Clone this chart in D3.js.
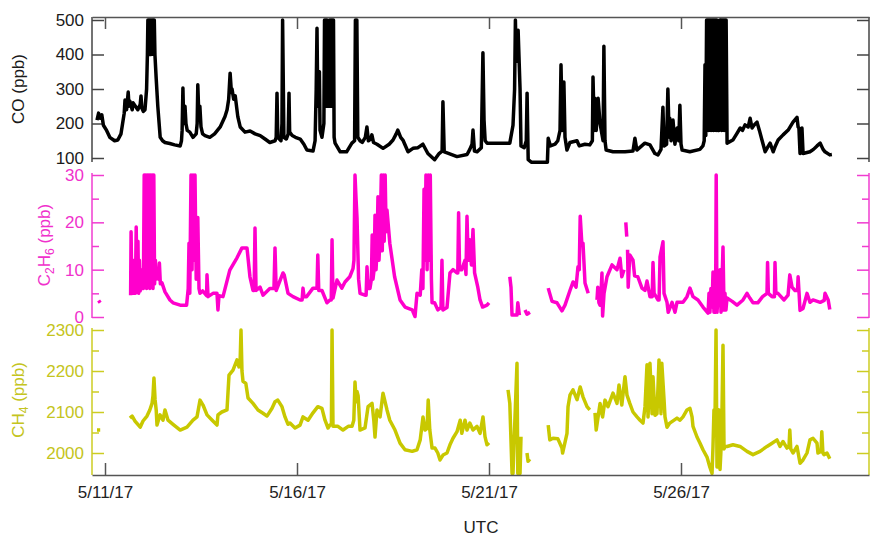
<!DOCTYPE html>
<html>
<head>
<meta charset="utf-8">
<script src="https://cdn.jsdelivr.net/npm/d3@7"></script>
<style>
body { margin: 0; background: #fff; }
svg { display: block; font-family: "Liberation Sans", Arial, Helvetica, sans-serif; }
</style>
</head>
<body>
<svg width="870" height="539"></svg>
<script>
// [hours since 5/11/17 00:00 UTC, ppb]; null = gap in the record
const coData = [
  [-5,210],[-4,230],[-3,215],[-2,225],[-1,195],[1,180],[3,160],[6,150],[8,152],[10,170],[11,200],[12,230],[12.5,268],[13.5,240],[14.5,291],[15,250],[15.5,265],[17,240],[17.5,260],[19,250],[20.5,240],[22,255],[22.5,280],[23,245],[24,235],[25,240],[26,300],[26.5,400],[26.8,500],[27.2,400],[27.6,500],[28,400],[28.4,500],[28.8,400],[29.2,500],[29.6,410],[30,500],[30.4,400],[30.8,500],[31.2,400],[32,330],[33,250],[34.5,160],[36,150],[37.5,145],[40.5,142],[43.5,138],[47,135],[47.8,150],[48.2,180],[48.7,303],[49.2,200],[50,250],[50.6,200],[51.4,180],[53,175],[55,160],[57,170],[57.6,200],[58,312],[58.6,230],[59.3,250],[60,190],[61,170],[62.5,165],[65.5,160],[68.5,170],[72,190],[75,220],[76.3,240],[77.3,270],[78.2,346],[79,290],[79.4,300],[80.4,270],[81.4,280],[83,220],[84.5,190],[87.5,175],[90.7,178],[93.8,170],[97,165],[100,155],[103,145],[106.3,150],[107,160],[107.5,288],[108,160],[110,150],[110.6,200],[111,500],[111.8,160],[113.3,155],[114.5,170],[115,288],[115.4,175],[117,165],[119,160],[122,155],[124.3,140],[126.2,123],[130,120],[131.3,150],[132,300],[132.5,476],[133,250],[134,350],[134.4,180],[135.6,160],[136.8,200],[137.2,500],[137.6,250],[138,500],[138.4,250],[138.8,500],[139.2,250],[139.6,300],[140,250],[140.4,500],[140.8,250],[141.2,500],[141.6,250],[142,500],[142.4,250],[142.8,500],[143.2,160],[143.8,143],[147,118],[151,118],[154.3,143],[156,150],[156.5,500],[157.4,500],[158,160],[159.4,150],[160.8,145],[162.7,160],[163.7,190],[164.6,150],[166,155],[166.8,167],[167.8,145],[170,140],[173.8,128],[177.6,140],[180,152],[182,170],[183,181],[184.8,160],[186.2,152],[189.4,118],[192.5,128],[195.6,130],[198.7,140],[201.8,113],[206,95],[208.8,113],[210.7,120],[211.2,263],[212,118],[213.8,115],[220,104],[226.3,110],[228,125],[229.4,140],[230,181],[230.9,120],[232.6,118],[235.2,130],[236.2,405],[236.9,210],[237.6,150],[238.8,143],[247,143],[253,143],[255,195],[256,300],[256.5,500],[257,380],[258.2,470],[259.4,300],[260,135],[262,130],[263.3,150],[263.8,288],[264.5,95],[266.4,88],[276.5,88],[277,157],[278.4,135],[281.3,140],[283,150],[284.4,180],[285,370],[285.8,180],[286.8,320],[287.5,160],[288.7,123],[290.6,145],[295,150],[296.4,135],[300,140],[303,138],[304.6,150],[305,335],[305.8,180],[306.2,273],[307,180],[308.2,273],[309.4,200],[311.3,150],[311.8,424],[312.5,150],[313.2,123],[317.5,118],[325,118],[330,120],[331.2,157],[332.4,123],[337.4,143],[340.6,138],[343.7,113],[345.6,109],[347.5,125],[348.7,247],[349.4,135],[351,140],[351.8,300],[352.6,160],[353,215],[353.8,150],[355,210],[356.2,140],[357.6,187],[358.6,150],[359.3,253],[360,140],[360.7,123],[365.5,118],[371.8,125],[373.7,135],[374.5,150],[375,370],[375.5,165],[376,500],[376.4,200],[376.8,500],[377.2,180],[377.6,500],[378,200],[378.4,500],[378.8,180],[379.2,500],[379.6,200],[380,500],[380.4,180],[380.8,500],[381.2,200],[381.6,500],[382,180],[382.4,500],[382.8,375],[383.1,180],[383.4,375],[383.7,180],[384,375],[384.3,500],[384.6,200],[385,500],[385.4,180],[385.8,500],[386.2,200],[386.6,500],[387,180],[387.4,500],[387.8,200],[388.2,500],[388.8,143],[392.4,152],[394.8,170],[397,187],[398.4,180],[400,196],[402,190],[403.2,215],[404.4,187],[405.6,195],[407.5,204],[409,180],[410.6,152],[412.6,118],[414,130],[415.7,143],[417.6,118],[419,135],[420.7,152],[423.8,167],[427,181],[430,204],[432.5,218],[433.2,190],[433.7,187],[434.4,113],[435,150],[435.6,187],[436.3,113],[440.6,118],[442.8,125],[445,135],[447,143],[448.8,125],[450,118],[453,109],[454.3,110]
];

const c2h6Data = [
  [-4,3.5],[-3,3.0],[-2,null],
  [16,4.6],[16.3,18],[16.8,5],[17.5,12],[18,5],[18.5,10],[19,5],[19.5,19],[20,5.5],[20.6,16],[21,5],[21.5,12],[22,5.5],[22.5,10],[23,6],[24,6],[24.5,30],[25,8],[25.5,30],[26,6],[26.5,30],[27,7],[27.5,30],[28,6],[28.5,30],[29,8],[29.5,30],[30,6],[30.5,30],[31,7],[31.5,12],[32,8],[32.5,9.3],[33.5,8],[34,11.4],[34.6,7],[35.6,7.2],[37.5,5.3],[40.6,3.6],[42.5,3],[47,2.5],[51,2.5],[52,6],[52.5,15.6],[53,5],[53.75,30],[54.4,10],[55,30],[55.6,12],[56.25,30],[57,8],[58,21],[58.75,6],[59.4,5],[61,5.5],[63.5,4.5],[63.75,8.9],[64.4,4.3],[67.5,5],[70,5],[70.6,1.5],[71.25,4.5],[73.75,4.3],[78,9.9],[82.5,12.5],[85.6,14.6],[88.75,14.6],[90.6,8.5],[92.5,5.6],[93.2,5.6],[93.75,18.8],[94.4,5.6],[96.9,6.3],[98.75,4.6],[103,6],[105.6,6],[106.25,14.6],[107,5.6],[111.25,9.3],[112,8.9],[114.4,5],[117.5,4.3],[121.9,3.6],[123.2,3.6],[123.75,6.1],[124.4,4.3],[126,4.3],[130,6.1],[132.5,6.1],[133,13.1],[133.6,5.6],[135.6,5.6],[138.75,3],[140.6,3.6],[141.4,3.6],[141.9,16.3],[142.5,4],[145,7.8],[148,6.1],[150,7.4],[153,8.5],[155,10.2],[155.6,12],[156.25,30],[156.9,25],[157.5,21],[158.5,8],[159.4,5],[162.5,4.6],[163.2,4.6],[163.75,10.6],[164.5,6],[165.6,6],[166.5,8],[167,17.3],[167.5,8],[168.2,10],[168.75,21.5],[169.4,10],[170,14],[170.6,25.4],[171.25,12],[172,18],[172.7,30],[173.3,14],[173.9,30],[174.5,16],[175.1,30],[175.7,18],[176.25,22.6],[178,15.6],[181,8.5],[184.4,3.6],[187.5,2.1],[192,1.5],[193.75,0.1],[195,5],[197,4.6],[198,10],[198.7,6],[199.4,27],[200,12],[200.6,30],[201.3,10],[202,30],[202.7,12],[203.3,30],[204,8],[204.4,3],[206,3],[208,1.5],[210,2],[210.6,12],[211.2,1.5],[213.75,2],[215.6,9.3],[217.5,10],[220,9.3],[220.5,9.3],[221,22],[221.6,10],[223,10],[225,12],[225.6,9],[226.25,21.3],[227,12],[228,16.3],[229,11],[230,18.5],[231,9.3],[233,6.3],[234.4,3.6],[236,2.1],[238.75,2.5],[240,3],[241,null],
  [253,8.5],[253.75,6.3],[254.4,0.4],[257.5,0.4],[258,3],[259,0.4],[260,null],
  [262.5,1.5],[263.75,0.6],[265.6,1],[266,null],
  [277,6.1],[279.4,3.3],[282.5,3],[285.6,1.3],[287.5,2.5],[290.6,5.6],[292.5,7.4],[294.4,6.3],[295.6,10.6],[296.4,10],[297,21.3],[298,15.6],[298.75,15.6],[300,7.2],[302,5],[303,null],
  [307.5,3.6],[308,6.3],[308.7,3],[309.4,2.5],[310,5],[310.6,9.3],[311,0.2],[311.9,5],[313.75,8.5],[316.9,11],[320,10],[321.9,12.4],[323,8.5],[324.4,10],[325,null],
  [325.5,20],[326.1,17],[326.3,null],
  [326.6,14.2],[327,6.3],[328,13.1],[330,12],[331,8.7],[333,8.5],[335.6,6.1],[337.5,5.6],[338.75,7.6],[340.6,4.3],[342,4.3],[342.5,11.5],[343.2,5],[345.6,3.6],[346.3,3.6],[346.9,12.7],[348.75,15.9],[349.4,5],[351.25,3.1],[352,1],[354.4,3.1],[356.25,1],[357.5,3.1],[361.25,3.1],[363.75,4.3],[365.6,6.1],[367.5,4.3],[370.6,3.6],[373.75,2.1],[376.9,0.8],[377.5,5],[378.1,1],[378.7,6],[379.4,2.1],[380,9.5],[380.6,1],[381.25,4.3],[381.6,1],[382,30],[382.5,1],[383,3.6],[383.6,8],[384.4,10],[385,1],[385.6,7],[386.25,14.8],[386.9,1.5],[387.5,5],[388.1,1.5],[388.75,4],[392,3.3],[395,2.5],[398.75,3.6],[401.25,5],[403,4],[405,3],[408,3],[411,4.3],[413.75,5],[414.1,11.5],[414.6,5],[416.9,4.3],[418.4,4.3],[418.75,11.5],[419.3,5],[420.6,5],[424.4,3.6],[426.9,4.6],[428,8.9],[429.4,6.3],[431.25,5.6],[432.8,5.6],[433.2,8.5],[433.8,5],[434.4,1.4],[436.25,1.8],[438.75,5],[440.6,3.1],[442.5,3.6],[447,3.1],[449.5,3.5],[450,5],[452,3.6],[453,1.6]
];

const ch4Data = [
  [-5,2056],[-3,2056],[-2,null],
  [15.6,2085],[17,2090],[18.75,2078],[22,2063],[23.75,2078],[26.25,2090],[28,2105],[29.4,2121],[30,2140],[30.6,2183],[31.3,2130],[32,2105],[32.5,2068],[34.4,2093],[36.25,2080],[37.5,2105],[39.4,2080],[42.5,2070],[47,2056],[51.25,2063],[55,2080],[57.5,2088],[59.4,2129],[61.25,2117],[63.75,2093],[67,2080],[70,2068],[70.6,2093],[73,2100],[76.25,2105],[77.5,2190],[80,2202],[82.5,2227],[83.75,2210],[84.5,2230],[85,2300],[85.6,2200],[86.25,2175],[88,2170],[89.4,2134],[92.5,2121],[95.6,2105],[98.75,2097],[101.25,2090],[104.4,2109],[106.25,2125],[108,2129],[110.6,2113],[112.5,2088],[114.4,2070],[115.6,2073],[118.75,2061],[121.9,2068],[123.75,2088],[126.9,2080],[130,2098],[133,2113],[135.6,2109],[137.5,2080],[139.4,2061],[140.6,2068],[141.5,2070],[141.9,2300],[142.5,2065],[145.6,2065],[148.75,2056],[152,2065],[154.4,2065],[155.5,2080],[156.25,2173],[157,2125],[157.5,2150],[158.2,2140],[159.4,2056],[162.5,2061],[164.4,2113],[166.9,2121],[168,2080],[168.75,2039],[170,2105],[171.9,2088],[173.75,2146],[176.25,2105],[178,2080],[181.25,2056],[184.4,2024],[187.5,2008],[192,2004],[195,2008],[197,2032],[198.75,2088],[200,2056],[201.3,2060],[202,2129],[203,2056],[204.4,2012],[206.25,2012],[208,2000],[209.4,1983],[211.25,1995],[213.75,2000],[215.6,2020],[217.5,2036],[220,2052],[222,2080],[223,2048],[225,2080],[226.25,2056],[228,2073],[230,2056],[232.5,2065],[234.4,2048],[236.25,2088],[237.5,2040],[238.75,2020],[240,2025],[241,null],
  [251.9,2154],[253,2121],[254.4,1950],[255,1950],[256.25,2088],[257.5,2219],[258,1950],[259.4,1950],[260,2040],[261,null],
  [263.75,2000],[264.4,1980],[265.6,1985],[266,null],
  [277,2068],[278,2032],[280,2036],[283,2035],[285.6,2012],[286,2000],[288.75,2048],[289.4,2113],[290.6,2141],[292.5,2154],[295,2130],[297,2161],[298.75,2137],[301.25,2113],[303,2105],[304,null],
  [306.25,2098],[307,2056],[309.4,2121],[311,2088],[312.5,2129],[314.4,2113],[317.5,2146],[320,2121],[321.25,2166],[323,2117],[325,2186],[326.25,2141],[328,2121],[330,2100],[332.5,2088],[334.4,2080],[336.25,2073],[337.5,2113],[338.75,2215],[339.4,2088],[340.6,2219],[341.9,2096],[342.5,2186],[343.75,2092],[345,2096],[346.25,2227],[347.5,2096],[348,2219],[349.4,2130],[350,2088],[351.25,2063],[353,2073],[357.5,2085],[359.4,2080],[361.25,2088],[363.75,2105],[365.6,2109],[366.9,2088],[367.5,2065],[370,2039],[371.9,2024],[373.75,2008],[376.25,1990],[378,1966],[379.4,1950],[380,2016],[380.6,2105],[381.3,2100],[381.9,2300],[382.5,1966],[383.1,2100],[383.75,2105],[384.4,1960],[385,2008],[385.6,2100],[386.25,2263],[386.9,2010],[387.5,2016],[388.75,2016],[392.5,2020],[396.9,2016],[401.25,2004],[405,1996],[409.4,2004],[413.75,2016],[416.9,2024],[420,2032],[421.9,2016],[423.75,2028],[426.25,2012],[427.5,2015],[428,2056],[428.6,2010],[430,2000],[432.5,2016],[434.4,1975],[436.25,1983],[438.75,2000],[440.6,2032],[442.5,2036],[445,2024],[445.6,2000],[447.5,2004],[448,2052],[448.7,2000],[449.4,1996],[451.25,2000],[453,1986]
];

const dateTicks = [0, 120, 240, 360]; // 5/11, 5/16, 5/21, 5/26 in hours
const coTicks = [100, 200, 300, 400, 500];
const c2h6Ticks = [0, 10, 20, 30];
const c2h6Minor = [5, 15, 25];
const ch4Ticks = [2000, 2100, 2200, 2300];
const ch4Minor = [2050, 2150, 2250];

const t0 = Date.UTC(2017, 4, 11);
const toDate = (h) => new Date(t0 + h * 3600e3);

const plotLeft = 92, plotRight = 869, plotTop = 17, plotBottom = 475;
const fontSize = 17;
const svg = d3.select('svg');

const xScale = d3.scaleUtc()
  .domain([toDate(-8.125), toDate(477.5)])
  .range([plotLeft, plotRight]);

function styleAxis(g, color) {
  g.attr('font-size', fontSize).attr('font-family', null);
  g.selectAll('line').attr('stroke', color).attr('stroke-width', 1.5);
  g.selectAll('text').attr('fill', color);
  g.select('.domain').remove();
}

function drawPanel(p) {
  const yScale = d3.scaleLinear().domain(p.domain).range(p.range);

  // vertical axis lines on both sides
  [plotLeft, plotRight].forEach((x) => {
    svg.append('line')
      .attr('x1', x).attr('x2', x)
      .attr('y1', p.extent[0]).attr('y2', p.extent[1])
      .attr('stroke', p.axisColor)
      .attr('stroke-width', 1.5);
  });

  svg.append('g')
    .attr('transform', `translate(${plotLeft},0)`)
    .call(d3.axisLeft(yScale).tickValues(p.ticks).tickSize(-12).tickPadding(8)
      .tickFormat(d3.format('d')))
    .call((g) => styleAxis(g, p.axisColor))
    .call((g) => g.selectAll('text').attr('fill', p.textColor));
  svg.append('g')
    .attr('transform', `translate(${plotLeft},0)`)
    .call(d3.axisLeft(yScale).tickValues(p.minor).tickSize(-7).tickFormat(''))
    .call((g) => styleAxis(g, p.axisColor));
  svg.append('g')
    .attr('transform', `translate(${plotRight},0)`)
    .call(d3.axisRight(yScale).tickValues(p.ticks).tickSize(-12).tickFormat(''))
    .call((g) => styleAxis(g, p.axisColor));
  svg.append('g')
    .attr('transform', `translate(${plotRight},0)`)
    .call(d3.axisRight(yScale).tickValues(p.minor).tickSize(-7).tickFormat(''))
    .call((g) => styleAxis(g, p.axisColor));

  // the series
  const line = d3.line()
    .defined((d) => d[1] !== null)
    .x((d) => xScale(toDate(d[0])))
    .y((d) => yScale(d[1]));

  svg.append('path')
    .datum(p.data)
    .attr('d', line)
    .attr('fill', 'none')
    .attr('stroke', p.color)
    .attr('stroke-width', 3.5)
    .attr('stroke-linejoin', 'round');

  // rotated title, pieces may be subscripts
  const title = svg.append('text')
    .attr('transform', `translate(${p.labelX},${p.labelY}) rotate(-90)`)
    .attr('text-anchor', 'middle')
    .attr('font-size', fontSize)
    .attr('fill', p.textColor);
  let shifted = false;
  p.title.forEach(([s, sub]) => {
    const dy = sub && !shifted ? 4 : (!sub && shifted ? -4 : 0);
    shifted = sub;
    title.append('tspan')
      .attr('dy', dy)
      .attr('font-size', sub ? 12 : fontSize)
      .text(s);
  });
}

const panels = [
  {data: coData, color: '#000', axisColor: '#444', textColor: '#1a1a1a',
   domain: [100, 500], range: [158, 20], extent: [17, 162], ticks: coTicks, minor: [],
   title: [['CO (ppb)', false]], labelX: 24, labelY: 89},
  {data: c2h6Data, color: '#ff00cc', axisColor: '#f03cd0', textColor: '#f030cc',
   domain: [0, 30], range: [317, 175], extent: [173, 318], ticks: c2h6Ticks, minor: c2h6Minor,
   title: [['C', false], ['2', true], ['H', false], ['6', true], [' (ppb)', false]], labelX: 50, labelY: 245},
  {data: ch4Data, color: '#c8c800', axisColor: '#cccc22', textColor: '#c4c420',
   domain: [2000, 2300], range: [453, 330], extent: [328, 475], ticks: ch4Ticks, minor: ch4Minor,
   title: [['CH', false], ['4', true], [' (ppb)', false]], labelX: 24, labelY: 400}
];
panels.forEach(drawPanel);

// time axis at the bottom, mirrored ticks along the top border
svg.append('g')
  .attr('transform', `translate(0,${plotBottom})`)
  .call(d3.axisBottom(xScale)
    .tickValues(dateTicks.map(toDate))
    .tickSize(-12).tickSizeOuter(0).tickPadding(11)
    .tickFormat(d3.utcFormat('%-m/%-d/%y')))
  .call((g) => {
    g.attr('font-size', fontSize).attr('font-family', null);
    g.selectAll('line, .domain').attr('stroke', '#555').attr('stroke-width', 1.5);
    g.selectAll('text').attr('fill', '#222');
  });

svg.append('g')
  .attr('transform', `translate(0,${plotTop})`)
  .call(d3.axisTop(xScale)
    .tickValues(dateTicks.map(toDate))
    .tickSize(-12).tickSizeOuter(0).tickFormat(''))
  .call((g) => g.selectAll('line, .domain').attr('stroke', '#555').attr('stroke-width', 1.5));

svg.append('text')
  .attr('x', 481)
  .attr('y', 533)
  .attr('text-anchor', 'middle')
  .attr('font-size', fontSize)
  .attr('fill', '#222')
  .text('UTC');
</script>
</body>
</html>
